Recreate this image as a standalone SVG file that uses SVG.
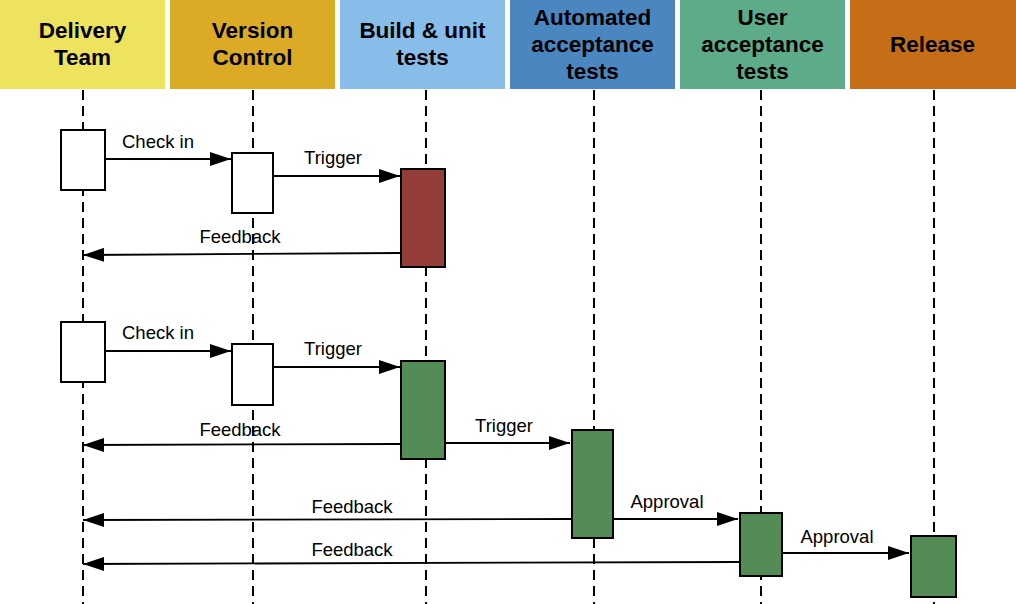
<svg xmlns="http://www.w3.org/2000/svg" width="1016" height="604" viewBox="0 0 1016 604">
<style>
.hdr{font-family:"Liberation Sans",Arial,sans-serif;font-size:22.5px;font-weight:bold;fill:#000;text-anchor:middle}
.lbl{font-family:"Liberation Sans",Arial,sans-serif;font-size:18.5px;fill:#000;text-anchor:middle}
.life{stroke:#000;stroke-width:2;stroke-dasharray:10 6;fill:none}
.box{stroke:#000;stroke-width:2}
.white{fill:#fff}
.red{fill:#943c38}
.green{fill:#548c57}
.msg{stroke:#000;stroke-width:1.8;fill:none;marker-end:url(#arr)}
</style>
<defs>
<marker id="arr" markerUnits="userSpaceOnUse" markerWidth="21" markerHeight="14" refX="21" refY="7" orient="auto">
<path d="M0,0 L21,7 L0,14 Z" fill="#000"/>
</marker>
</defs>
<rect width="1016" height="604" fill="#fff"/>
<g id="lane-delivery">
<rect x="0" y="0" width="165" height="89" fill="#ede35f"/>
<text class="hdr" x="82.5" y="38">Delivery</text>
<text class="hdr" x="82.5" y="65">Team</text>
<line class="life" x1="83" y1="90" x2="83" y2="604"/>
</g>
<g id="lane-version">
<rect x="170" y="0" width="165" height="89" fill="#dbab26"/>
<text class="hdr" x="252.5" y="38">Version</text>
<text class="hdr" x="252.5" y="65">Control</text>
<line class="life" x1="253" y1="90" x2="253" y2="604"/>
</g>
<g id="lane-build">
<rect x="340" y="0" width="165" height="89" fill="#88bdea"/>
<text class="hdr" x="422.5" y="38">Build &amp; unit</text>
<text class="hdr" x="422.5" y="65">tests</text>
<line class="life" x1="426" y1="90" x2="426" y2="604"/>
</g>
<g id="lane-automated">
<rect x="510" y="0" width="165" height="89" fill="#4a86c0"/>
<text class="hdr" x="592.5" y="25">Automated</text>
<text class="hdr" x="592.5" y="52">acceptance</text>
<text class="hdr" x="592.5" y="79">tests</text>
<line class="life" x1="594" y1="90" x2="594" y2="604"/>
</g>
<g id="lane-user">
<rect x="680" y="0" width="165" height="89" fill="#5dab88"/>
<text class="hdr" x="762.5" y="25">User</text>
<text class="hdr" x="762.5" y="52">acceptance</text>
<text class="hdr" x="762.5" y="79">tests</text>
<line class="life" x1="761" y1="90" x2="761" y2="604"/>
</g>
<g id="lane-release">
<rect x="850" y="0" width="166" height="89" fill="#c66e17"/>
<text class="hdr" x="932.5" y="52">Release</text>
<line class="life" x1="934" y1="90" x2="934" y2="604"/>
</g>
<g id="connectors">
<line class="msg" x1="105" y1="159" x2="231" y2="159"/>
<text class="lbl" x="158" y="148">Check in</text>
<line class="msg" x1="273" y1="176" x2="400" y2="176"/>
<text class="lbl" x="333" y="164">Trigger</text>
<line class="msg" x1="401" y1="253" x2="83" y2="255"/>
<text class="lbl" x="240" y="243">Feedback</text>
<line class="msg" x1="105" y1="351" x2="231" y2="351"/>
<text class="lbl" x="158" y="339">Check in</text>
<line class="msg" x1="273" y1="367" x2="400" y2="367"/>
<text class="lbl" x="333" y="355">Trigger</text>
<line class="msg" x1="401" y1="444" x2="83" y2="445"/>
<text class="lbl" x="240" y="436">Feedback</text>
<line class="msg" x1="445" y1="443" x2="570" y2="443"/>
<text class="lbl" x="504" y="432">Trigger</text>
<line class="msg" x1="572" y1="519" x2="83" y2="520"/>
<text class="lbl" x="352" y="513">Feedback</text>
<line class="msg" x1="613" y1="519" x2="738" y2="519"/>
<text class="lbl" x="667" y="508">Approval</text>
<line class="msg" x1="740" y1="562" x2="83" y2="564"/>
<text class="lbl" x="352" y="556">Feedback</text>
<line class="msg" x1="782" y1="553" x2="909" y2="553"/>
<text class="lbl" x="837" y="543">Approval</text>
</g>
<g id="act-delivery-1"><rect class="box white" x="61" y="130" width="44" height="60"/></g>
<g id="act-version-1"><rect class="box white" x="232" y="153" width="41" height="60"/></g>
<g id="act-build-1"><rect class="box red" x="401" y="169" width="44" height="98"/></g>
<g id="act-delivery-2"><rect class="box white" x="61" y="322" width="44" height="60"/></g>
<g id="act-version-2"><rect class="box white" x="232" y="344" width="41" height="61"/></g>
<g id="act-build-2"><rect class="box green" x="401" y="361" width="44" height="98"/></g>
<g id="act-automated"><rect class="box green" x="572" y="430" width="41" height="108"/></g>
<g id="act-user"><rect class="box green" x="740" y="513" width="42" height="63"/></g>
<g id="act-release"><rect class="box green" x="911" y="536" width="45" height="61"/></g>
</svg>
